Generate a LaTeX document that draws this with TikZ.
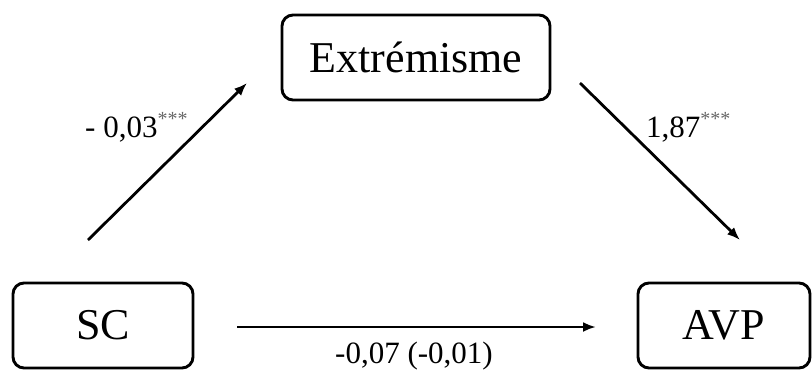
\documentclass[tikz,border=0pt]{standalone}
\usepackage{fontspec}
\setmainfont{Liberation Serif}
\usetikzlibrary{arrows.meta}
\tikzset{
  box/.style={draw=black, line width=2.9pt, rounded corners=11pt, fill=white, inner sep=0pt, font=\fontsize{44}{50}\selectfont},
  conn/.style={line width=2.8pt, -{Latex[length=13pt,width=10pt]}},
  lbl/.style={font=\fontsize{31}{36}\selectfont, inner sep=0pt, anchor=base west},
}
\newcommand{\stars}{\raisebox{12pt}{\fontsize{20}{20}\selectfont\color{black!60}***}}
\begin{document}
\begin{tikzpicture}[x=1pt,y=-1pt]
\useasboundingbox (0,0) rectangle (812,370);
\node[box, minimum width=268pt, minimum height=85pt] (ext) at (416,57.5) {Extrémisme};
\node[box, minimum width=180pt, minimum height=85pt] (sc) at (103,325.5) {SC};
\node[box, minimum width=172pt, minimum height=85pt] (avp) at (724,325.5) {AVP};
\coordinate (a1s) at (88,240);
\coordinate (a1e) at (247,83);
\coordinate (a2s) at (580,83);
\coordinate (a2e) at (740,240);
\coordinate (a3s) at (237,327);
\coordinate (a3e) at (596,327);
\draw[conn] (a1s) -- (a1e);
\draw[conn] (a2s) -- (a2e);
\draw[conn] (a3s) -- (a3e);
\node[lbl] (l1) at (85,137) {- 0,03\stars};
\node[lbl] (l2) at (646,137) {1,87\stars};
\node[lbl] (l3) at (335,363) {-0,07 (-0,01)};
\end{tikzpicture}
\end{document}
